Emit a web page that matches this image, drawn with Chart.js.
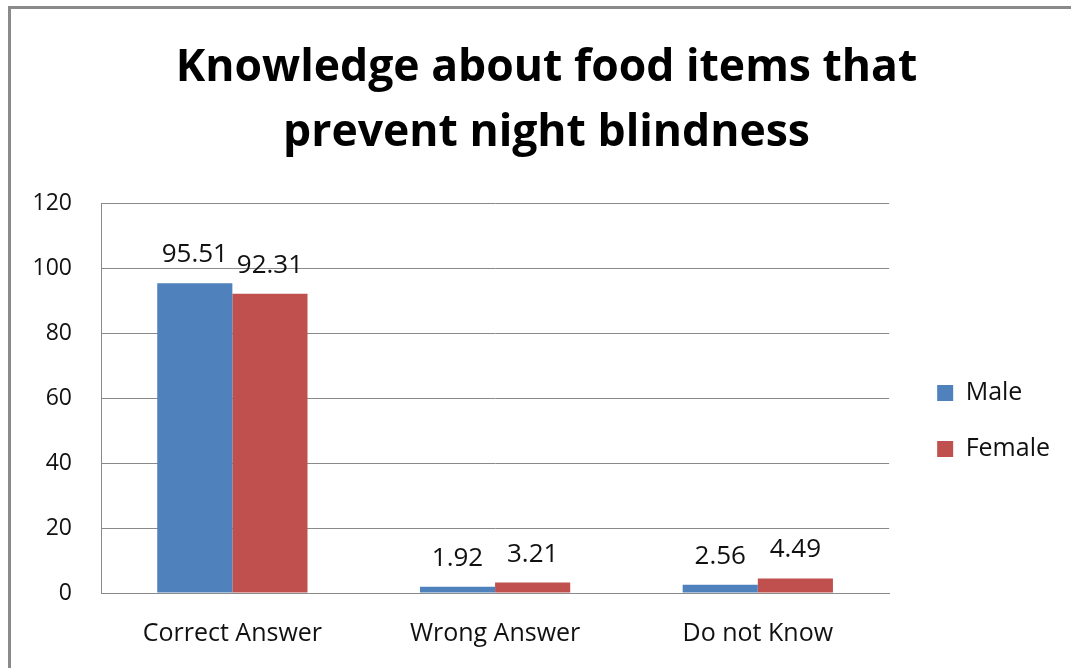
<!DOCTYPE html>
<html>
<head>
<meta charset="utf-8">
<script src="https://cdn.jsdelivr.net/npm/chart.js@4"></script>
<style>
    html, body { margin: 0; padding: 0; background: #fff; }
    #cadre { position: relative; width: 1071px; height: 668px; overflow: hidden; }
    #bord { position: absolute; left: 8px; top: 6px; width: 2000px; height: 2000px;
            border-top: 3px solid #8a8a8a; border-left: 3px solid #8a8a8a; pointer-events: none; }
</style>
</head>
<body>
<div id="cadre">
    <div id="bord"></div>
    <canvas id="graphique"></canvas>
</div>
<script>
// ============================================
// Donnees
// ============================================
var categories = ["Correct Answer", "Wrong Answer", "Do not Know"];
var male = [95.51, 1.92, 2.56];
var female = [92.31, 3.21, 4.49];
var titre = ["Knowledge about food items that", "prevent night blindness"];

var police = "'Open Sans', 'Liberation Sans', sans-serif";

// Etiquettes au-dessus des barres
var etiquettes = {
    id: "etiquettes",
    afterDatasetsDraw: function (chart) {
        var ctx = chart.ctx;
        ctx.save();
        ctx.font = "26px " + police;
        ctx.fillStyle = "#111";
        ctx.textAlign = "center";
        ctx.textBaseline = "alphabetic";
        chart.data.datasets.forEach(function (ds, i) {
            chart.getDatasetMeta(i).data.forEach(function (barre, j) {
                ctx.fillText(ds.data[j].toFixed(2), barre.x, barre.y - 21);
            });
        });
        ctx.restore();
    }
};

var ctx = document.getElementById("graphique").getContext("2d");
new Chart(ctx, {
    type: "bar",
    data: {
        labels: categories,
        datasets: [
            { label: "Male", data: male, backgroundColor: "#4F81BD" },
            { label: "Female", data: female, backgroundColor: "#C0504D" }
        ]
    },
    options: {
        responsive: true,
        maintainAspectRatio: false,
        animation: false,
        layout: { padding: { top: 0, left: 33, right: 11, bottom: 0 } },
        categoryPercentage: 0.572,
        barPercentage: 1.0,
        plugins: {
            title: {
                display: true,
                text: titre,
                color: "#000",
                font: { family: police, size: 44.5, weight: "bold", lineHeight: 1.46 },
                padding: { top: 36, bottom: 38 }
            },
            legend: {
                position: "right",
                fullSize: false,
                title: { display: true, text: "", font: { size: 10, lineHeight: 1 }, padding: { top: 35, bottom: 0 } },
                labels: {
                    color: "#111",
                    font: { family: police, size: 25 },
                    boxWidth: 16,
                    boxHeight: 16,
                    padding: 31
                }
            },
            tooltip: { enabled: false }
        },
        scales: {
            x: {
                grid: { display: false, drawTicks: false },
                border: { display: true, color: "#8a8a8a", width: 1 },
                ticks: { color: "#111", font: { family: police, size: 25 }, padding: 26 },
                afterFit: function (s) { s.height = 75; }
            },
            y: {
                min: 0,
                max: 120,
                ticks: { stepSize: 20, color: "#111", font: { family: police, size: 23 }, padding: 29 },
                grid: { color: "#8a8a8a", drawTicks: false },
                border: { display: true, color: "#8a8a8a", width: 1 },
                afterFit: function (s) { s.width = 68; }
            },
            y2: {
                position: "right",
                display: true,
                grid: { display: false, drawTicks: false },
                border: { display: false },
                ticks: { display: false },
                afterFit: function (s) { s.width = 17; }
            }
        }
    },
    plugins: [etiquettes]
});
</script>
</body>
</html>
